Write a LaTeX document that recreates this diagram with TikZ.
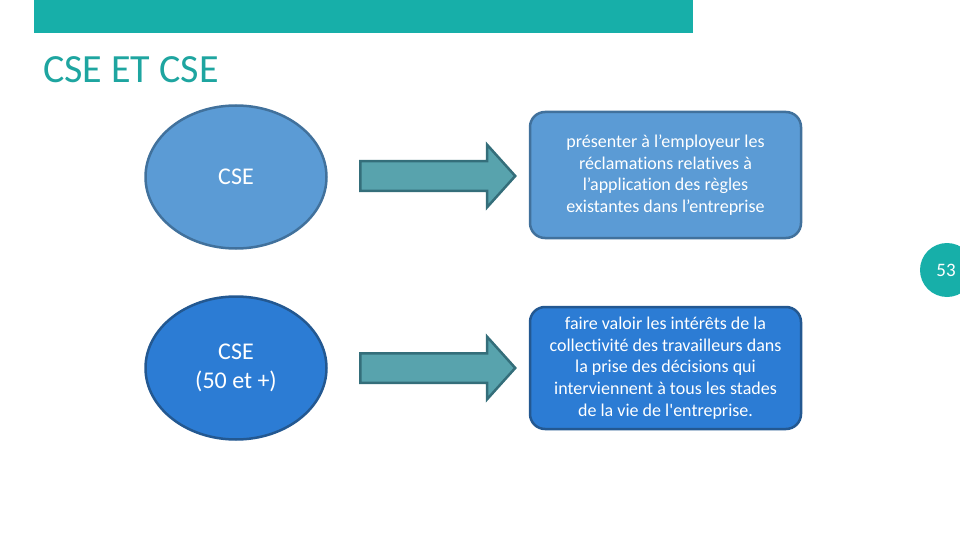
\documentclass[tikz,border=0pt]{standalone}
\usepackage{fontspec}
\setmainfont{Carlito}[Ligatures={TeXOff,NoCommon}]
\usetikzlibrary{shapes.geometric,shapes.arrows}

\definecolor{tealbar}{RGB}{23,175,169}
\definecolor{tealtitle}{RGB}{30,165,160}
\definecolor{lightfill}{RGB}{91,155,213}
\definecolor{lightline}{RGB}{65,113,156}
\definecolor{darkfill}{RGB}{44,124,212}
\definecolor{darkline}{RGB}{35,88,145}
\definecolor{arrfill}{RGB}{88,163,173}
\definecolor{arrline}{RGB}{52,110,122}

\begin{document}
\begin{tikzpicture}[x=1pt, y=-1pt,
  oval/.style={draw, ellipse, line width=2.5pt, minimum width=181pt, minimum height=143pt,
    text=white, font=\fontsize{24}{29}\selectfont, align=center},
  infobox/.style={draw, rectangle, rounded corners=15pt, line width=2.5pt, minimum width=271pt,
    text=white, font=\fontsize{18}{21.7}\selectfont, align=center},
  blockarrow/.style={draw=arrline, fill=arrfill, line width=2.5pt, single arrow, anchor=tail,
    minimum height=155pt, inner xsep=0pt, inner ysep=13.5pt, single arrow head extend=16.5pt,
    single arrow tip angle=96}
]
\useasboundingbox (0,0) rectangle (960,540);

% Draw header bar and title
\fill[tealbar] (34,0) rectangle (693,33);
\node[anchor=base west, text=tealtitle, font=\fontsize{40}{48}\selectfont, inner sep=0pt] (title) at (43,83) {CSE ET CSE};

% Draw page number
\fill[tealbar] (947,270) circle (27);
\node[text=white, font=\fontsize{19}{22}\selectfont] (pagenum) at (946,270) {53};

% Draw first row
\node[oval, fill=lightfill, draw=lightline] (cse) at (236,177) {CSE};
\node[blockarrow] (arr1) at (359,176) {};
\node[infobox, fill=lightfill, draw=lightline, minimum height=126pt] (role1) at (665.5,175)
  {présenter à l’employeur les\\réclamations relatives à\\l’application des règles\\existantes dans l’entreprise};

% Draw second row
\node[oval, fill=darkfill, draw=darkline] (cse50) at (236,368) {CSE\\(50 et +)};
\node[blockarrow] (arr2) at (359,368) {};
\node[infobox, fill=darkfill, draw=darkline, minimum height=122pt] (role2) at (665.5,368)
  {faire valoir les intérêts de la\\collectivité des travailleurs dans\\la prise des décisions qui\\interviennent à tous les stades\\de la vie de l'entreprise.};

\end{tikzpicture}
\end{document}
